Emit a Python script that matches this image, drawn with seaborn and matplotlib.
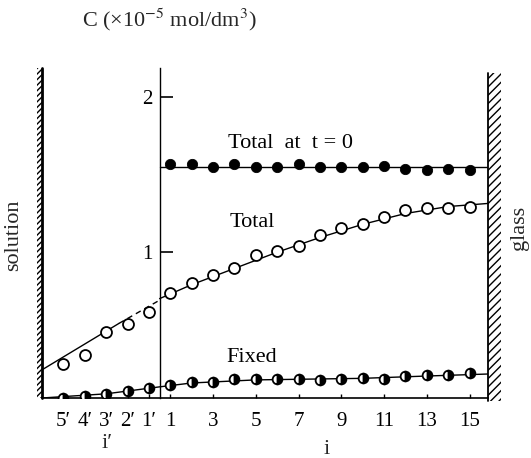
import numpy as np
import pandas as pd
import seaborn as sns
import matplotlib.pyplot as plt
from matplotlib.patches import Rectangle

# positions: i = 1..15 on the glass side, i' = 1'..5' on the solution side
i_pos = list(range(1, 16))
ip_pos = [-4, -3, -2, -1, 0]            # 5', 4', 3', 2', 1'
ip_labels = ["5′", "4′", "3′", "2′", "1′"]
i_ticks = [1, 3, 5, 7, 9, 11, 13, 15]

# measured concentrations (x10^-5 mol/dm3)
total_t0 = [1.57, 1.57, 1.55, 1.57, 1.55, 1.55, 1.57, 1.55, 1.55, 1.55, 1.555, 1.54, 1.53, 1.54, 1.53]
total = [0.735, 0.80, 0.85, 0.90, 0.98, 1.005, 1.04, 1.11, 1.155, 1.185, 1.225, 1.27, 1.285, 1.285, 1.29]
total_p = [0.277, 0.335, 0.484, 0.535, 0.613]
fixed = [0.142, 0.161, 0.161, 0.181, 0.181, 0.181, 0.181, 0.174, 0.181, 0.187, 0.181, 0.20, 0.206, 0.206, 0.219]
fixed_p = [0.058, 0.071, 0.084, 0.103, 0.123]

# hand drawn curves
t0_fit_x = [0.5, 15.86]
t0_fit_y = [1.55, 1.55]
tot_fit_x = [0.5, 2, 4, 6, 8, 10, 12, 14, 15.86]
tot_fit_y = [0.70, 0.79, 0.895, 1.0, 1.095, 1.18, 1.25, 1.295, 1.315]
totp_fit_x = [-5, -1.4]
totp_fit_y = [0.24, 0.54]
totp_dash_x = [-1.4, 0.5]
totp_dash_y = [0.54, 0.69]
fix_fit_x = [-5, -2, 0.5, 2, 5, 10, 13, 15.86]
fix_fit_y = [0.058, 0.085, 0.13, 0.155, 0.175, 0.185, 0.20, 0.213]

sns.set_theme(style="white")
plt.rcParams['font.family'] = ['Liberation Serif', 'DejaVu Serif']
plt.rcParams['mathtext.fontset'] = 'stix'

W, H = 531, 458
fig = plt.figure(figsize=(W / 100, H / 100), dpi=100)
ax = fig.add_axes([42 / W, 1 - 398 / H, (488 - 42) / W, (398 - 68) / H])
ax.set_xlim(-5, 15.86)
ax.set_ylim(0.058, 2.19)
ax.patch.set_alpha(0)

# fitted lines
sns.lineplot(x=t0_fit_x, y=t0_fit_y, ax=ax, color='black', lw=1)
sns.lineplot(x=tot_fit_x, y=tot_fit_y, ax=ax, color='black', lw=1)
sns.lineplot(x=totp_fit_x, y=totp_fit_y, ax=ax, color='black', lw=1)
ax.plot(totp_dash_x, totp_dash_y, color='black', lw=1, ls=(0, (4, 3)))
sns.lineplot(x=fix_fit_x, y=fix_fit_y, ax=ax, color='black', lw=1)

# points
sns.scatterplot(x=i_pos, y=total_t0, ax=ax, color='black', s=55, edgecolor='black', zorder=3)
sns.scatterplot(x=i_pos + ip_pos, y=total + total_p, ax=ax, facecolor='white',
                edgecolor='black', linewidth=1.3, s=62, zorder=3)
ax.plot(i_pos + ip_pos, fixed + fixed_p, ls='none', marker='o', ms=7, fillstyle='right',
        mfc='black', markerfacecoloralt='white', mec='black', mew=1.3, zorder=3)

# axes: vertical axis sits between 1' and 1
for s in ['top', 'right']:
    ax.spines[s].set_visible(False)
ax.spines['left'].set_position(('data', 0.5))
ax.spines['left'].set_linewidth(1)
ax.spines['bottom'].set_linewidth(1.2)
for s in ['left', 'bottom']:
    ax.spines[s].set_color('black')
ax.set_yticks([1, 2])
ax.set_yticklabels(['1', '2'])
ax.tick_params(axis='y', left=True, direction='in', length=9, width=1.2, labelsize=15, pad=5,
               colors='black')
ax.set_xticks(ip_pos + i_ticks)
ax.set_xticklabels(ip_labels + [str(t) for t in i_ticks])
ax.tick_params(axis='x', bottom=True, direction='in', length=3, width=1, labelsize=15, pad=10,
               colors='black')
ax.set_xlabel('')
ax.set_ylabel('')

# walls
ax.plot([-5, -5], [0.058, 2.19], color='black', lw=2, clip_on=False)
ax.add_patch(Rectangle((-5.25, 0.058), 0.25, 2.13, facecolor='none', edgecolor='black',
                       hatch='//////', lw=0, clip_on=False))
ax.plot([15.86, 15.86], [0.04, 2.16], color='black', lw=1.3, clip_on=False)
ax.add_patch(Rectangle((15.86, 0.04), 0.6, 2.12, facecolor='none', edgecolor='black',
                       hatch='////', lw=0, clip_on=False))

# labels
ax.text(6.6, 1.70, 'Total  at  t = 0', ha='center', va='center', fontsize=16, color='black')
ax.text(4.83, 1.19, 'Total', ha='center', va='center', fontsize=16, color='black')
ax.text(4.83, 0.32, 'Fixed', ha='center', va='center', fontsize=16, color='black')

fig.text(82 / W, 1 - 20 / H, 'C (×10$^{-5}$ mol/dm$^{3}$)', ha='left', va='center', fontsize=16)
fig.text(14 / W, 1 - 235 / H, 'solution', rotation=90, ha='center', va='center', fontsize=16)
fig.text(520 / W, 1 - 228 / H, 'glass', rotation=90, ha='center', va='center', fontsize=16)
fig.text(107 / W, 1 - 443 / H, 'i′', ha='center', va='center', fontsize=16)
fig.text(327 / W, 1 - 450 / H, 'i', ha='center', va='center', fontsize=16)

fig.savefig('out.png', dpi=100)
